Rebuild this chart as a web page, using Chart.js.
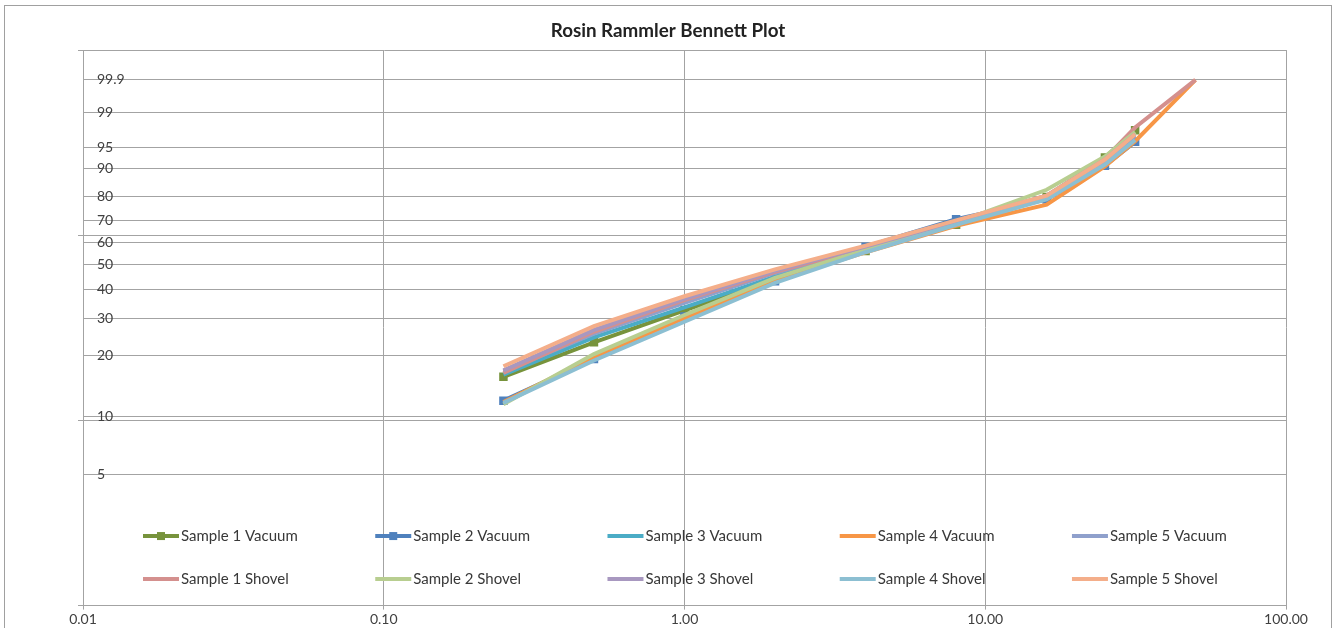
<!DOCTYPE html>
<html>
<head>
<meta charset="utf-8">
<title>Rosin Rammler Bennett Plot</title>
<script src="https://cdn.jsdelivr.net/npm/chart.js@4.4.0/dist/chart.umd.min.js"></script>
<style>
  html, body { margin: 0; padding: 0; background: #fff; }
</style>
</head>
<body>
<canvas id="rrb" width="1336" height="628"></canvas>
<script>
// sieve sizes (mm)
var sizes = [0.25, 0.5, 1, 2, 4, 8, 16, 25, 31.5, 50];

// cumulative % passing (null = no reading)
var s1Vacuum = [15.8, 23.2, 32.5, 44.0, 56.0, 68.0, 80.0, 92.8, 97.5, null];
var s2Vacuum = [12.0, 19.3, 30.5, 43.1, 58.0, 70.5, 79.0, 90.7, 95.9, null];
var s3Vacuum = [16.2, 24.5, 33.5, 45.0, 57.0, 69.0, 80.0, 92.0, 96.8, null];
var s4Vacuum = [11.8, 19.8, 30.0, 43.5, 55.5, 67.5, 76.8, 90.5, 96.0, 99.9];
var s5Vacuum = [16.8, 25.5, 35.0, 46.5, 57.5, 69.0, 80.0, 92.0, 96.8, null];
var s1Shovel = [16.5, 26.0, 36.0, 47.0, 57.5, 69.5, 80.5, 92.5, 97.8, 99.9];
var s2Shovel = [11.5, 20.4, 31.0, 44.5, 56.5, 69.0, 82.8, 93.0, 97.3, null];
var s3Shovel = [17.0, 26.5, 36.5, 47.5, 58.0, 69.5, 80.5, 92.3, 97.0, null];
var s4Shovel = [11.7, 19.0, 28.9, 42.5, 55.5, 68.0, 79.0, 91.0, 96.2, null];
var s5Shovel = [17.8, 27.6, 37.4, 48.0, 58.5, 70.0, 80.5, 92.3, 97.0, null];

var seriesNames = ['Sample 1 Vacuum', 'Sample 2 Vacuum', 'Sample 3 Vacuum', 'Sample 4 Vacuum', 'Sample 5 Vacuum',
                   'Sample 1 Shovel', 'Sample 2 Shovel', 'Sample 3 Shovel', 'Sample 4 Shovel', 'Sample 5 Shovel'];
var seriesData = [s1Vacuum, s2Vacuum, s3Vacuum, s4Vacuum, s5Vacuum,
                  s1Shovel, s2Shovel, s3Shovel, s4Shovel, s5Shovel];
var seriesColors = ['#77933c', '#4f81bd', '#4bacc6', '#f79646', '#8fa0cc',
                    '#d4908e', '#b8ce90', '#a898c0', '#8cbfd2', '#f4ae8a'];
var withMarkers = [true, true, false, false, false, false, false, false, false, false];

var yTickPct = [5, 10, 20, 30, 40, 50, 60, 70, 80, 90, 95, 99, 99.9];
var yMajor = [0.01, 0.1, 1, 10];
var xTickVals = [0.01, 0.1, 1, 10, 100];
var xTickLabels = ['0.01', '0.10', '1.00', '10.00', '100.00'];

// RRB ordinate: ln(1/(1-P)), plotted on a log axis
function rrb(p) { return -Math.log(1 - p / 100); }

var gridColor = '#a3a3a3';
var textFont = 'Lato';

var datasets = seriesData.map(function (vals, i) {
    return {
        label: seriesNames[i],
        data: vals.map(function (p, j) { return { x: sizes[j], y: p == null ? null : rrb(p) }; }),
        borderColor: seriesColors[i],
        backgroundColor: seriesColors[i],
        borderWidth: 4,
        pointStyle: 'rect',
        pointRadius: withMarkers[i] ? 6 : 0,
        pointBorderWidth: 0,
        tension: 0,
        order: seriesData.length - i   // later series on top, like Excel
    };
});

// outer frame + legend inside the plot area
var framePlugin = {
    id: 'frame',
    beforeDraw: function (chart) {
        var ctx = chart.ctx;
        ctx.save();
        ctx.fillStyle = '#fff';
        ctx.fillRect(0, 0, chart.width, chart.height);
        ctx.strokeStyle = '#a0a0a0';
        ctx.lineWidth = 1;
        ctx.strokeRect(4.5, 5.5, chart.width - 9, chart.height + 20);
        ctx.restore();
    },
    afterDraw: function (chart) {
        var ctx = chart.ctx;
        var area = chart.chartArea;
        var colW = (area.right - area.left) / 5.18;
        ctx.save();
        ctx.font = '15px ' + textFont;
        ctx.textBaseline = 'middle';
        chart.data.datasets.forEach(function (ds, i) {
            var col = i % 5, row = Math.floor(i / 5);
            var x0 = area.left + 60 + col * colW;
            var y = area.top + 486 + row * 43;
            ctx.strokeStyle = ds.borderColor;
            ctx.lineWidth = 4;
            ctx.beginPath();
            ctx.moveTo(x0, y);
            ctx.lineTo(x0 + 36, y);
            ctx.stroke();
            if (withMarkers[i]) {
                ctx.fillStyle = ds.borderColor;
                ctx.fillRect(x0 + 14, y - 4, 8, 8);
            }
            ctx.fillStyle = '#383838';
            ctx.fillText(ds.label, x0 + 38, y);
        });
        ctx.restore();
    }
};

new Chart(document.getElementById('rrb'), {
    type: 'line',
    data: { datasets: datasets },
    options: {
        responsive: false,
        animation: false,
        layout: { padding: { left: 50, right: 50, top: 0, bottom: 0 } },
        plugins: {
            legend: { display: false },
            tooltip: { enabled: false },
            title: {
                display: true,
                text: 'Rosin Rammler Bennett Plot',
                color: '#222',
                font: { family: textFont, size: 18.8, weight: 'bold' },
                padding: { top: 19.5, bottom: 8 }
            }
        },
        scales: {
            x: {
                type: 'logarithmic',
                min: 0.01,
                max: 100,
                afterBuildTicks: function (s) {
                    s.ticks = xTickVals.map(function (v) { return { value: v }; });
                },
                afterFit: function (s) { s.height = 21; },
                ticks: {
                    autoSkip: false,
                    maxRotation: 0,
                    padding: 1,
                    color: '#404040',
                    font: { family: textFont, size: 14 },
                    callback: function (v, i) { return xTickLabels[i]; }
                },
                grid: { color: gridColor, tickLength: 4 },
                border: { color: gridColor }
            },
            y: {
                type: 'logarithmic',
                position: 'left',
                weight: 1,
                min: 0.01,
                max: 10,
                afterBuildTicks: function (s) {
                    s.ticks = yMajor.map(function (v) { return { value: v }; });
                },
                afterFit: function (s) { s.width = 33; },
                ticks: { display: false },
                grid: { color: gridColor, tickLength: 5 },
                border: { color: gridColor }
            },
            y2: {
                type: 'logarithmic',
                position: 'left',
                weight: 0,
                min: 0.01,
                max: 10,
                afterBuildTicks: function (s) {
                    s.ticks = yTickPct.map(function (p) { return { value: rrb(p) }; });
                },
                afterFit: function (s) { s.width = 0; },
                ticks: {
                    mirror: true,
                    padding: 14,
                    autoSkip: false,
                    color: '#404040',
                    font: { family: textFont, size: 14 },
                    callback: function (v, i) { return String(yTickPct[i]); }
                },
                grid: { color: gridColor, drawTicks: false },
                border: { display: false }
            }
        }
    },
    plugins: [framePlugin]
});
</script>
</body>
</html>
